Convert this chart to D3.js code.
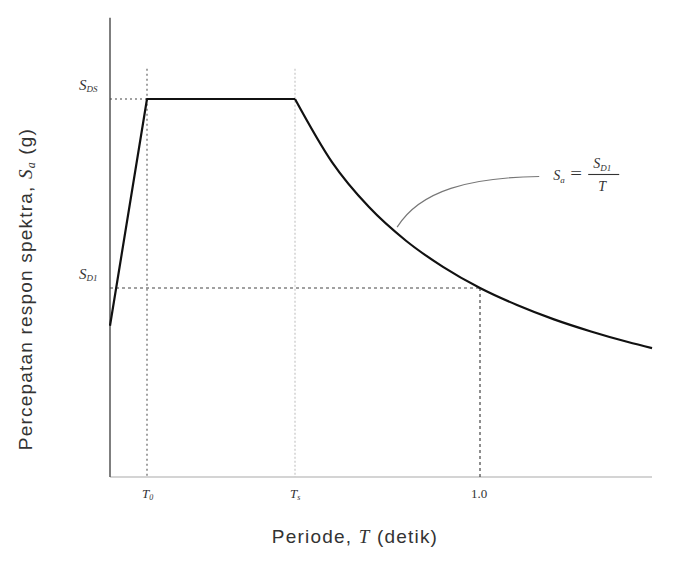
<!DOCTYPE html>
<html><head><meta charset="utf-8">
<script src="https://cdn.jsdelivr.net/npm/d3@7"></script>
<style>body{margin:0;background:#fff}svg{display:block}</style>
</head><body>
<script>
// Data
const rampT = [0, 0.1];
const rampSa = [0.4, 1.0];
const plateauT = [0.1, 0.5];
const plateauSa = [1.0, 1.0];
const decayT = [0.5, 0.6, 0.7, 0.8, 0.9, 1.0, 1.1, 1.2, 1.3, 1.4, 1.465];
const decaySa = [1.0, 0.833, 0.714, 0.625, 0.556, 0.5, 0.455, 0.417, 0.385, 0.357, 0.341];
const T0 = 0.1, Ts = 0.5, T1 = 1.0;
const SDS = 1.0, SD1 = 0.5;
const xTicks = [{v: T0, main: "T", sub: "0"}, {v: Ts, main: "T", sub: "s"}, {v: T1, main: "1.0", sub: ""}];
const yTicks = [{v: SDS, main: "S", sub: "DS"}, {v: SD1, main: "S", sub: "D1"}];

const W = 678, H = 561;
const svg = d3.select("body").append("svg").attr("width", W).attr("height", H);
const x = d3.scaleLinear().domain([0, 1]).range([110, 480]);
const y = d3.scaleLinear().domain([0, 1]).range([477, 99]);
const xMax = 1.465, yTop = 1.215;

// axes
svg.append("line").attr("x1", x(0)).attr("x2", x(xMax)).attr("y1", y(0)).attr("y2", y(0))
  .attr("stroke", "#aaa").attr("stroke-width", 1.2);
svg.append("line").attr("x1", x(0)).attr("x2", x(0)).attr("y1", y(0)).attr("y2", y(yTop))
  .attr("stroke", "#555").attr("stroke-width", 1.5);

// guide lines
const g = svg.append("g").attr("fill", "none");
g.append("line").attr("x1", x(0)).attr("x2", x(T0)).attr("y1", y(SDS)).attr("y2", y(SDS))
  .attr("stroke", "#444").attr("stroke-width", 1.2).attr("stroke-dasharray", "2,3");
g.append("line").attr("x1", x(T0)).attr("x2", x(T0)).attr("y1", y(1.08)).attr("y2", y(0))
  .attr("stroke", "#666").attr("stroke-width", 1.2).attr("stroke-dasharray", "2,3");
g.append("line").attr("x1", x(Ts)).attr("x2", x(Ts)).attr("y1", y(1.08)).attr("y2", y(0))
  .attr("stroke", "#bbb").attr("stroke-width", 1).attr("stroke-dasharray", "2,2");
g.append("line").attr("x1", x(0)).attr("x2", x(T1)).attr("y1", y(SD1)).attr("y2", y(SD1))
  .attr("stroke", "#444").attr("stroke-width", 1.2).attr("stroke-dasharray", "3,3");
g.append("line").attr("x1", x(T1)).attr("x2", x(T1)).attr("y1", y(SD1)).attr("y2", y(0))
  .attr("stroke", "#444").attr("stroke-width", 1.2).attr("stroke-dasharray", "3,3");

// spectrum curve
const lin = d3.line().x(d => x(d[0])).y(d => y(d[1]));
const mono = d3.line().x(d => x(d[0])).y(d => y(d[1])).curve(d3.curveMonotoneX);
const pts = (T, S) => T.map((t, i) => [t, S[i]]);
svg.append("path").attr("d", lin(pts(rampT, rampSa).concat(pts(plateauT, plateauSa).slice(1))))
  .attr("fill", "none").attr("stroke", "#111").attr("stroke-width", 2.2).attr("stroke-linejoin", "round");
svg.append("path").attr("d", mono(pts(decayT, decaySa)))
  .attr("fill", "none").attr("stroke", "#111").attr("stroke-width", 2.2);

// leader line
const ls = [0.776, 0.645], le = [1.16, 0.795];
svg.append("path")
  .attr("d", `M${x(ls[0])},${y(ls[1]) - 6} C${x(ls[0]) + 23},${y(ls[1]) - 43} ${x(ls[0]) + 73},${y(le[1]) + 1} ${x(le[0])},${y(le[1])}`)
  .attr("fill", "none").attr("stroke", "#777").attr("stroke-width", 1.2);

// formula
const f = svg.append("g").attr("font-family", "Liberation Serif").attr("font-style", "italic").attr("fill", "#333");
const fx = x(le[0]) + 14, fy = y(le[1]) + 4;
f.append("text").attr("x", fx).attr("y", fy).attr("font-size", 14)
  .html('S<tspan font-size="9" dy="3">a</tspan>');
f.append("text").attr("x", fx + 17).attr("y", fy - 1).attr("font-size", 16).attr("font-style", "normal")
  .attr("transform", `translate(${fx + 17},0) scale(1.3,1) translate(${-(fx + 17)},0)`).text("=");
f.append("line").attr("x1", fx + 35).attr("x2", fx + 66).attr("y1", fy - 6).attr("y2", fy - 6).attr("stroke", "#333").attr("stroke-width", 1.1);
f.append("text").attr("x", fx + 40).attr("y", fy - 12).attr("font-size", 14)
  .html('S<tspan font-size="9" dy="3">D1</tspan>');
f.append("text").attr("x", fx + 45).attr("y", fy + 11).attr("font-size", 14).text("T");

// y tick labels
const yl = svg.append("g").attr("font-family", "Liberation Serif").attr("font-style", "italic").attr("fill", "#333");
yTicks.forEach(t => {
  yl.append("text").attr("x", 79).attr("y", y(t.v) - 9).attr("font-size", 15)
    .html(`${t.main}<tspan font-size="9" dy="2">${t.sub}</tspan>`);
});
// x tick labels
const xl = svg.append("g").attr("font-family", "Liberation Serif").attr("fill", "#333");
xTicks.forEach(t => {
  const tx = xl.append("text").attr("x", x(t.v) - (t.sub ? 5 : 9)).attr("y", y(0) + 21).attr("font-size", 13);
  if (t.sub) tx.attr("font-style", "italic").html(`${t.main}<tspan font-size="8" dy="2">${t.sub}</tspan>`);
  else tx.text(t.main);
});

// axis titles
svg.append("text").attr("x", 355).attr("y", 543).attr("text-anchor", "middle")
  .attr("font-family", "Liberation Sans").attr("font-size", 19).attr("letter-spacing", 1.2).attr("fill", "#333")
  .html('Periode, <tspan font-family="Liberation Serif" font-style="italic">T</tspan> (detik)');
svg.append("text").attr("transform", "translate(32,289) rotate(-90)").attr("text-anchor", "middle")
  .attr("font-family", "Liberation Sans").attr("font-size", 19).attr("letter-spacing", 1.2).attr("fill", "#333")
  .html('Percepatan respon spektra, <tspan font-family="Liberation Serif" font-style="italic">S</tspan><tspan font-family="Liberation Serif" font-style="italic" font-size="12" dy="3">a</tspan><tspan dy="-3"> (g)</tspan>');
</script>
</body></html>
